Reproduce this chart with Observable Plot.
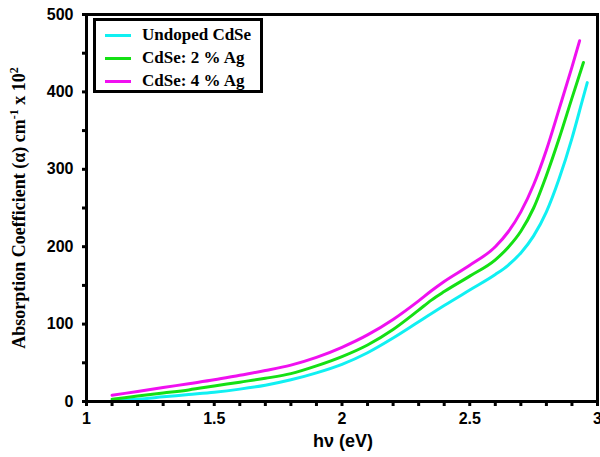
<!DOCTYPE html>
<html>
<head>
<meta charset="utf-8">
<script src="https://cdn.jsdelivr.net/npm/d3@7"></script>
<script src="https://cdn.jsdelivr.net/npm/@observablehq/plot@0.6"></script>
<style>
  html, body { margin: 0; padding: 0; background: #fff; }
  #wrap { position: relative; width: 600px; height: 457px; }
  #legend {
    position: absolute; left: 93px; top: 18px; width: 164px; height: 69px;
    border: 3px solid #000; background: #fff; box-sizing: content-box;
    font-family: "Liberation Serif", "Times New Roman", serif; font-weight: bold; font-size: 17px;
  }
  .row { position: absolute; left: 0; height: 20px; display: flex; align-items: center; white-space: nowrap; }
  .sw { display: inline-block; width: 26px; height: 3px; margin-left: 9px; margin-right: 11px; }
</style>
</head>
<body>
<div id="wrap"></div>
<script>
// ---- data ----
const seriesNames = ["Undoped CdSe", "CdSe: 2 % Ag", "CdSe: 4 % Ag"];
const seriesColors = ["#10F0F2", "#14E014", "#F010F0"];

const undopedX = [1.1, 1.2, 1.3, 1.4, 1.5, 1.6, 1.7, 1.8, 1.9, 2.0, 2.1, 2.2, 2.3, 2.4, 2.5, 2.6, 2.65, 2.7, 2.75, 2.8, 2.85, 2.9, 2.94, 2.96];
const undopedY = [1, 3, 6, 9, 12, 16, 21, 28, 37, 48, 63, 82, 103, 124, 144, 164, 176, 192, 214, 245, 288, 340, 388, 412];

const ag2X = [1.1, 1.2, 1.3, 1.4, 1.5, 1.6, 1.7, 1.8, 1.9, 2.0, 2.1, 2.2, 2.3, 2.35, 2.4, 2.5, 2.6, 2.65, 2.7, 2.75, 2.8, 2.85, 2.9, 2.945];
const ag2Y = [3, 7, 11, 15, 20, 25, 30, 36, 46, 58, 73, 93, 118, 131, 142, 162, 183, 199, 220, 250, 292, 340, 392, 438];

const ag4X = [1.1, 1.2, 1.3, 1.4, 1.5, 1.6, 1.7, 1.8, 1.9, 2.0, 2.1, 2.2, 2.3, 2.35, 2.4, 2.5, 2.6, 2.65, 2.7, 2.75, 2.8, 2.85, 2.9, 2.93];
const ag4Y = [8, 13, 18, 23, 28, 34, 40, 47, 57, 70, 86, 106, 130, 143, 155, 176, 200, 219, 245, 280, 325, 378, 432, 466];

const xMajorTicks = [1, 1.5, 2, 2.5, 3];
const xMinorTicks = [1, 1.1, 1.2, 1.3, 1.4, 1.5, 1.6, 1.7, 1.8, 1.9, 2, 2.1, 2.2, 2.3, 2.4, 2.5, 2.6, 2.7, 2.8, 2.9, 3];
const yMajorTicks = [0, 100, 200, 300, 400, 500];
const yMinorTicks = [0, 50, 100, 150, 200, 250, 300, 350, 400, 450, 500];

// ---- build table ----
const rows = [];
[[undopedX, undopedY], [ag2X, ag2Y], [ag4X, ag4Y]].forEach(([xs, ys], i) => {
  xs.forEach((x, j) => rows.push({series: seriesNames[i], x, y: ys[j]}));
});

const tickFont = {fontFamily: "Liberation Sans, Arial, sans-serif", fontWeight: "bold", fontSize: 16, fill: "#000"};

const chart = Plot.plot({
  width: 600,
  height: 457,
  marginLeft: 86,
  marginRight: 3,
  marginTop: 14,
  marginBottom: 56,
  x: {domain: [1, 3]},
  y: {domain: [0, 500]},
  color: {domain: seriesNames, range: seriesColors},
  marks: [
    Plot.line(rows, {x: "x", y: "y", z: "series", stroke: "series", strokeWidth: 3, curve: "monotone-x"}),
    Plot.axisX(xMinorTicks, {tickSize: 5, strokeWidth: 3, text: null, label: null}),
    Plot.axisX(xMajorTicks, {tickSize: 0, tickPadding: 11, tickFormat: d => String(d), label: null, ...tickFont}),
    Plot.axisY(yMinorTicks, {tickSize: 4, strokeWidth: 3, text: null, label: null}),
    Plot.axisY(yMajorTicks, {tickSize: 0, tickPadding: 13, tickFormat: d => String(d), label: null, ...tickFont}),
    Plot.frame({stroke: "#000", strokeWidth: 3})
  ]
});

document.getElementById("wrap").appendChild(chart);

// axis titles
const svg = d3.select(chart);
svg.append("text")
  .attr("x", 343).attr("y", 447)
  .attr("text-anchor", "middle")
  .attr("font-family", "Liberation Sans, Arial, sans-serif")
  .attr("font-weight", "bold").attr("font-size", 18)
  .attr("fill", "#000")
  .text("h\u03BD (eV)");

const yl = svg.append("text")
  .attr("transform", "translate(25,208) rotate(-90)")
  .attr("text-anchor", "middle")
  .attr("font-family", "Liberation Serif, Times New Roman, serif")
  .attr("font-weight", "bold").attr("font-size", 18)
  .attr("fill", "#000");
yl.append("tspan").text("Absorption Coefficient (\u03B1) cm");
yl.append("tspan").attr("dy", -7).attr("font-size", 12).text("-1");
yl.append("tspan").attr("dy", 7).text(" x 10");
yl.append("tspan").attr("dy", -7).attr("font-size", 12).text("2");

// legend
const leg = document.createElement("div");
leg.id = "legend";
seriesNames.forEach((name, i) => {
  const r = document.createElement("div");
  r.className = "row";
  r.style.top = (4 + i * 23) + "px";
  const sw = document.createElement("span");
  sw.className = "sw";
  sw.style.background = seriesColors[i];
  r.appendChild(sw);
  const t = document.createElement("span");
  t.textContent = name;
  r.appendChild(t);
  leg.appendChild(r);
});
document.getElementById("wrap").appendChild(leg);
</script>
</body>
</html>
